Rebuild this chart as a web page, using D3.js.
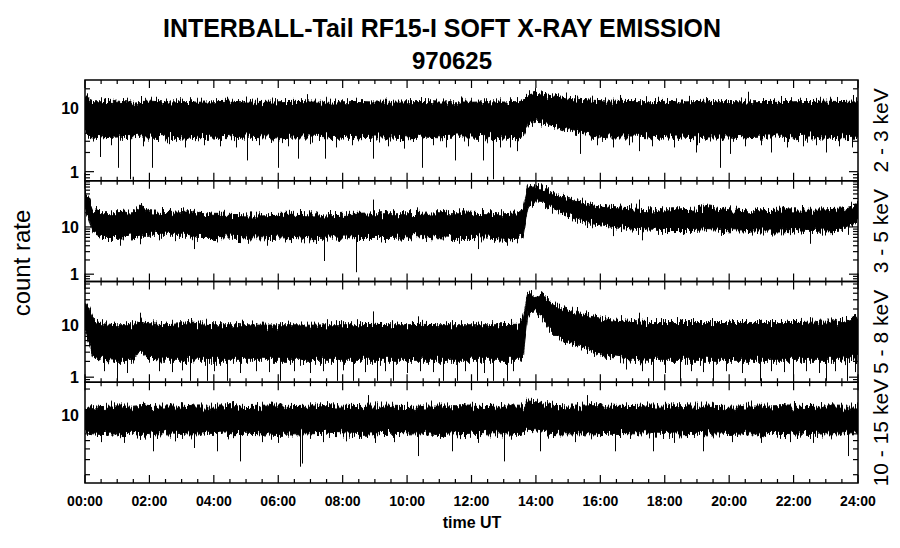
<!DOCTYPE html>
<html>
<head>
<meta charset="utf-8">
<script src="https://cdn.jsdelivr.net/npm/d3@7"></script>
<style>
  body { margin: 0; background: #fff; }
  svg { display: block; }
  text { font-family: "Liberation Sans", Arial, sans-serif; fill: #000; }
</style>
</head>
<body>
<svg width="900" height="548"></svg>
<script>
// sample times (hours UT) for the band envelopes
var hours = [0, 0.1, 0.25, 0.5, 1, 1.5, 1.7, 2, 2.5, 3,
             3.2, 3.5, 4, 4.5, 5, 5.5, 6, 6.5, 7, 7.5,
             8, 8.5, 9, 9.5, 10, 10.5, 11, 11.5, 12, 12.5,
             13, 13.5, 13.6, 13.75, 14, 14.2, 14.4, 14.7, 15, 15.4,
             15.8, 16.3, 17, 17.5, 18, 18.5, 19, 19.3, 19.6, 20,
             20.5, 21, 21.5, 22, 22.5, 23, 23.5, 24];

// 2 - 3 keV
var hi23 = [15, 13.5, 12.5, 12.5, 12.8, 12.3, 12.6, 12.8, 12.4, 12.5,
            12.6, 12.3, 12.5, 12.8, 12.4, 12.2, 12.5, 12.7, 12.4, 12.3,
            12.5, 12.6, 12.4, 12.3, 12.5, 12.6, 12.4, 12.5, 12.3, 12.5,
            12.4, 12.6, 13.2, 16, 17, 16.5, 15.8, 15, 14.2, 13.6,
            13.2, 12.8, 12.6, 12.5, 12.7, 12.4, 12.6, 12.8, 12.5, 12.6,
            12.4, 12.6, 12.7, 12.5, 12.6, 12.8, 12.6, 13];
var lo23 = [4, 3.6, 3.5, 3.4, 3.5, 3.4, 3.5, 3.5, 3.4, 3.5,
            3.5, 3.4, 3.5, 3.4, 3.5, 3.4, 3.4, 3.5, 3.5, 3.4,
            3.5, 3.4, 3.5, 3.5, 3.4, 3.5, 3.4, 3.5, 3.5, 3.4,
            3.5, 3.4, 3.6, 5.4, 6, 5.8, 5.5, 5, 4.4, 4,
            3.7, 3.5, 3.5, 3.4, 3.5, 3.5, 3.4, 3.5, 3.5, 3.5,
            3.4, 3.5, 3.5, 3.4, 3.5, 3.5, 3.4, 3.5];
var spikes23 = [[0.47,1.7],[1.01,1.15],[1.4,0.76],[2.08,1.15],[5.03,1.5],[6.0,1.15],[6.6,1.6],
  [7.45,1.6],[8.95,1.6],[10.47,1.15],[11.5,1.5],[12.36,1.5],[12.67,0.76],[13.4,2.1],[15.37,1.9],
  [17.2,2.1],[18.97,2.0],[19.72,1.15],[20.04,1.9],[21.3,2.0],[23.0,2.0],
  [0.8,2.6],[1.8,2.5],[2.6,2.7],[3.1,2.4],[3.7,2.6],[4.2,2.5],[4.7,2.4],[5.4,2.6],[6.3,2.5],
  [7.0,2.7],[7.8,2.4],[8.3,2.6],[9.4,2.5],[9.9,2.3],[10.8,2.6],[11.2,2.4],[11.9,2.5],[12.9,2.4],
  [13.2,2.4],[15.9,2.6],[16.4,2.4],[16.9,2.6],[17.6,2.5],[18.3,2.4],[19.0,2.6],[20.5,2.5],
  [21.0,2.6],[21.8,2.4],[22.3,2.5],[22.7,2.6],[23.4,2.5],[23.8,2.4],
  [0.05,17],[2.2,15],[4.4,15],[6.9,16.5],[13.8,19],[16.6,16],[17.8,15],[18.75,15.5],[20.6,18],
  [23.85,16],[0.6,14],[1.3,14.5],[3.0,14],[3.6,14.5],[5.2,14],[5.9,14.3],[7.6,14],[8.4,14.5],
  [9.3,14],[10.1,14.3],[10.9,14],[11.7,14.5],[12.4,14.2],[14.6,17],[15.2,16],[19.3,14.3],
  [21.4,14.2],[22.2,14.5],[22.9,14]];

// 3 - 5 keV
var hi35 = [57, 45, 24, 20, 20, 21, 25, 21, 20, 21,
            22, 19.5, 18.5, 18.5, 18, 18, 18.5, 18.5, 18, 18,
            18.5, 18.5, 19, 19, 19, 19.5, 20, 20, 19.5, 19,
            19, 20, 24, 66, 72, 70, 58, 45, 40, 34,
            29, 26, 24, 23, 23, 23, 24, 27, 25, 23,
            22, 22, 22.5, 23, 22.5, 23, 24, 30];
var lo35 = [24, 16, 7, 6, 6, 6.5, 7, 7, 7, 7,
            7, 6, 6, 5.8, 5.6, 5.6, 5.8, 6, 5.6, 5.8,
            5.8, 6, 6, 6, 6.2, 6.2, 6.2, 6, 6, 5.8,
            5.5, 5.8, 6, 26, 34, 33, 27, 22, 18, 13.5,
            11.5, 10.5, 9, 8.6, 8.4, 8.4, 8.5, 8.8, 8.6, 8.3,
            8.2, 8.2, 8.2, 8.4, 8, 8.2, 8.6, 13];
var spikes35 = [[1.1,4.0],[1.72,4.3],[3.38,3.4],[5.07,4.4],[5.65,4.0],[7.42,1.9],[8.42,1.1],
  [11.6,4.4],[12.2,3.4],[13.1,4.0],[16.4,6.4],[17.3,5.2],[22.5,4.4],
  [0.7,4.8],[2.3,5.2],[2.8,5.0],[4.1,4.7],[4.8,4.6],[6.2,4.7],[6.8,4.5],[7.9,4.8],[9.2,4.7],
  [9.8,4.9],[10.6,4.8],[12.7,4.6],[13.4,4.5],[15.6,9.5],[17.9,6.8],[18.6,7.0],[19.8,6.9],
  [20.7,6.7],[21.3,6.8],[22.0,6.9],[23.2,6.7],[23.7,6.8],
  [1.75,32],[3.05,26],[8.95,38],[10.3,26],[17.2,38],[19.3,31],[23.95,31],
  [0.8,22.5],[2.6,23],[4.3,21],[5.3,21],[6.4,21.5],[7.2,21],[8.1,21.5],[9.6,22],[11.2,23],
  [12.6,22.5],[13.3,22],[16.0,30],[18.2,26],[20.8,25.5],[21.7,26],[22.8,26],[23.5,27]];

// 5 - 8 keV
var hi58 = [28, 22, 13, 10.5, 10, 10, 12, 10.5, 10, 10.5,
            11, 10.5, 10, 10, 10, 9.8, 10, 10, 9.8, 10,
            10, 10, 10.2, 10, 10, 10.2, 10, 10, 10, 10,
            10, 10.3, 14, 42, 33, 40, 28, 22, 19, 16.5,
            14, 12.5, 11.5, 11, 11, 11, 11, 11, 11, 11,
            11, 11, 11, 11, 11.2, 11.2, 11.5, 13.5];
var lo58 = [8, 5, 2.4, 2.2, 2.1, 2.1, 3.2, 2.2, 2.1, 2.1,
            2.2, 2.1, 2.1, 2.1, 2.1, 2.1, 2.1, 2.1, 2.1, 2.1,
            2.1, 2.1, 2.1, 2.1, 2.1, 2.1, 2.1, 2.1, 2.1, 2.1,
            2.1, 2.1, 2.3, 16, 17, 14, 8.5, 5.5, 4.5, 3.8,
            3, 2.5, 2.2, 2.1, 2.1, 2.1, 2.1, 2.1, 2.1, 2.1,
            2.1, 2.1, 2.1, 2.1, 2.1, 2.1, 2.1, 2.4];
var spikes58 = [[0.98,0.85],[3.26,0.85],[3.78,0.85],[4.4,0.85],[6.06,0.85],[7.82,0.85],[8.33,0.85],
  [9.06,0.85],[9.57,0.85],[11.13,0.85],[11.54,0.85],[12.16,0.85],[12.67,0.85],[13.1,0.85],
  [17.65,0.85],[18.48,0.85],[19.5,0.85],[20.96,0.85],[21.99,0.85],[23.0,0.85],[23.66,0.85],
  [0.6,1.3],[1.3,1.2],[2.3,1.3],[2.7,1.25],[3.0,1.35],[4.0,1.3],[4.8,1.2],[5.3,1.3],[5.7,1.25],
  [6.5,1.3],[7.0,1.2],[7.4,1.3],[8.0,1.35],[8.7,1.25],[9.3,1.3],[10.0,1.2],[10.4,1.3],[10.8,1.25],
  [11.8,1.3],[12.4,1.2],[13.3,1.3],[16.8,1.4],[17.3,1.3],[18.0,1.2],[18.8,1.3],[19.2,1.25],
  [19.9,1.3],[20.4,1.2],[21.3,1.3],[21.7,1.25],[22.4,1.3],[22.8,1.2],[23.3,1.3],[23.9,1.25],
  [1.71,17],[4.87,12.5],[8.95,18],[10.35,14.5],[17.2,17],[20.0,12.5],[22.5,14],
  [0.9,11.5],[2.5,11.5],[3.5,12],[5.5,11.5],[6.3,12],[7.1,11.5],[7.9,11.8],[9.7,11.5],
  [11.4,12],[12.2,11.5],[13.0,11.8],[16.0,14],[18.5,12.5],[19.4,12.3],[21.0,12.5],[21.8,12.5],
  [23.3,13],[23.8,14]];

// 10 - 15 keV
var hi1015 = [13, 12.6, 12.8, 12.5, 12.7, 12.6, 12.8, 12.5, 12.7, 12.6,
              12.5, 12.7, 12.6, 12.8, 12.5, 12.6, 12.7, 12.5, 12.6, 12.8,
              12.6, 12.5, 12.7, 12.6, 12.5, 12.7, 12.6, 12.8, 12.6, 12.5,
              12.7, 12.6, 12.8, 14.5, 14.2, 13.5, 13, 12.8, 12.7, 12.6,
              12.8, 12.6, 12.5, 12.7, 12.6, 12.8, 12.6, 12.7, 12.5, 12.6,
              12.7, 12.6, 12.8, 12.6, 12.5, 12.7, 12.6, 12.7];
var lo1015 = [6, 6.1, 6, 5.9, 6, 6.1, 5.9, 6, 6, 5.9,
              6, 6, 5.9, 6, 6.1, 6, 5.9, 6, 6, 6.1,
              6, 5.9, 6, 6.1, 6, 6, 5.9, 6, 6.1, 6,
              6, 5.9, 6, 6.6, 6.5, 6.3, 6.1, 6, 6, 6,
              6, 6.1, 6, 6, 5.9, 6, 6.1, 6, 6, 5.9,
              6, 6, 6.1, 6, 5.9, 6, 6, 6];
var spikes1015 = [[2.1,3.75],[3.38,4.1],[4.1,3.75],[4.81,2.86],[6.68,2.48],[6.75,2.7],[10.35,3.3],
  [11.4,3.75],[13.0,2.86],[14.13,3.75],[16.45,3.75],[17.65,3.75],[19.2,3.75],[23.7,3.3],
  [0.5,4.8],[1.2,4.7],[2.8,4.9],[5.5,4.8],[6.0,4.7],[7.4,4.8],[8.1,4.9],[9.0,4.7],[9.6,4.8],
  [12.2,4.7],[15.2,4.8],[18.3,4.7],[20.1,4.8],[21.0,4.7],[21.9,4.8],[22.6,4.7],
  [4.6,14.5],[8.8,17],[13.75,15.5],[15.6,17],[22.0,14.5],
  [0.9,14],[1.8,14.2],[3.0,14],[5.8,14.2],[7.0,14],[10.0,14.2],[11.0,14],[12.0,14.2],
  [16.8,14],[18.0,14.2],[19.5,14],[20.6,14.2],[23.2,14]];

var bands = ["2 - 3 keV", "3 - 5 keV", "5 - 8 keV", "10 - 15 keV"];
var timeTicks = ["00:00", "02:00", "04:00", "06:00", "08:00", "10:00", "12:00",
                 "14:00", "16:00", "18:00", "20:00", "22:00", "24:00"];

var panels = [
  {label: bands[0], domain: [0.72, 27.5], hi: hi23, lo: lo23, spikes: spikes23},
  {label: bands[1], domain: [0.7, 95], hi: hi35, lo: lo35, spikes: spikes35},
  {label: bands[2], domain: [0.8, 67], hi: hi58, lo: lo58, spikes: spikes58},
  {label: bands[3], domain: [1.6, 24], hi: hi1015, lo: lo1015, spikes: spikes1015}
];

var svg = d3.select("svg");
var plotLeft = 85, plotRight = 858, plotTop = 80, panelH = 100.75;

var x = d3.scaleLinear().domain([0, 24]).range([plotLeft, plotRight]);

// rough the band edges so they read like the dense count-rate trace
var defs = svg.append("defs");
var rough = defs.append("filter")
    .attr("id", "rough")
    .attr("filterUnits", "userSpaceOnUse")
    .attr("x", 0).attr("y", 0).attr("width", 900).attr("height", 548)
    .attr("color-interpolation-filters", "sRGB");
rough.append("feTurbulence")
    .attr("type", "fractalNoise")
    .attr("baseFrequency", "0.8 0.04")
    .attr("numOctaves", 2)
    .attr("seed", 7)
    .attr("result", "noise");
rough.append("feColorMatrix")
    .attr("in", "noise")
    .attr("type", "matrix")
    .attr("values", "0 0 0 0 0.5  0 1 0 0 0  0 0 0 0 0  0 0 0 0 1")
    .attr("result", "shift");
rough.append("feDisplacementMap")
    .attr("in", "SourceGraphic")
    .attr("in2", "shift")
    .attr("scale", 17)
    .attr("xChannelSelector", "R")
    .attr("yChannelSelector", "G");

svg.append("text")
    .attr("x", 442).attr("y", 37)
    .attr("text-anchor", "middle")
    .attr("textLength", 558).attr("lengthAdjust", "spacingAndGlyphs")
    .style("font-size", "25px").style("font-weight", "bold")
    .text("INTERBALL-Tail RF15-I SOFT X-RAY EMISSION");

svg.append("text")
    .attr("x", 452).attr("y", 69)
    .attr("text-anchor", "middle")
    .style("font-size", "24px").style("font-weight", "bold")
    .text("970625");

svg.append("text")
    .attr("transform", "translate(30,263) rotate(-90)")
    .attr("text-anchor", "middle")
    .style("font-size", "24px")
    .text("count rate");

function interp(arr, h) {
  var i = d3.bisectRight(hours, h);
  if (i <= 0) return arr[0];
  if (i >= hours.length) return arr[hours.length - 1];
  var t = (h - hours[i - 1]) / (hours[i] - hours[i - 1]);
  return Math.exp(Math.log(arr[i - 1]) * (1 - t) + Math.log(arr[i]) * t);
}

var majorH = [], minorH = [];
for (var k = 0; k <= 48; k++) {
  if (k % 4 === 0) majorH.push(k / 2); else minorH.push(k / 2);
}

panels.forEach(function(p, i) {
  var y0 = plotTop + i * panelH, y1 = y0 + panelH;
  var y = d3.scaleLog().domain(p.domain).range([y1, y0]);
  var g = svg.append("g");

  defs.append("clipPath").attr("id", "clip" + i)
    .append("rect").attr("x", plotLeft).attr("y", y0)
    .attr("width", plotRight - plotLeft).attr("height", panelH);

  var plot = g.append("g").attr("clip-path", "url(#clip" + i + ")");

  var area = d3.area()
      .x(function(d, j) { return x(hours[j]); })
      .y0(function(d, j) { return y(p.lo[j]); })
      .y1(function(d, j) { return y(p.hi[j]); });

  plot.append("path")
      .datum(hours)
      .attr("d", area)
      .attr("fill", "#000")
      .attr("stroke", "#000")
      .attr("stroke-width", 1)
      .attr("filter", "url(#rough)");

  plot.selectAll("line.spike")
      .data(p.spikes)
      .enter().append("line")
      .attr("class", "spike")
      .attr("x1", function(d) { return Math.round(x(d[0])) + 0.5; })
      .attr("x2", function(d) { return Math.round(x(d[0])) + 0.5; })
      .attr("y1", function(d) { return y(Math.sqrt(interp(p.hi, d[0]) * interp(p.lo, d[0]))); })
      .attr("y2", function(d) { return y(d[1]); })
      .attr("stroke", "#000")
      .attr("stroke-width", 1);

  // frame
  g.append("rect")
      .attr("x", plotLeft).attr("y", y0)
      .attr("width", plotRight - plotLeft).attr("height", panelH)
      .attr("fill", "none").attr("stroke", "#000").attr("stroke-width", 1.5);

  // time ticks, inward on top and bottom
  var tk = g.append("g").attr("stroke", "#000").attr("stroke-width", 1.2);
  [[majorH, 8], [minorH, 4]].forEach(function(s) {
    s[0].forEach(function(h) {
      tk.append("line").attr("x1", x(h)).attr("x2", x(h)).attr("y1", y0).attr("y2", y0 + s[1]);
      tk.append("line").attr("x1", x(h)).attr("x2", x(h)).attr("y1", y1).attr("y2", y1 - s[1]);
    });
  });

  // log ticks, inward on left and right
  var lo10 = Math.floor(Math.log10(p.domain[0])), hi10 = Math.ceil(Math.log10(p.domain[1]));
  for (var e = lo10; e <= hi10; e++) {
    for (var m = 1; m <= 9; m++) {
      var v = m * Math.pow(10, e);
      if (v < p.domain[0] || v > p.domain[1]) continue;
      var len = m === 1 ? 9 : 5;
      tk.append("line").attr("x1", plotLeft).attr("x2", plotLeft + len).attr("y1", y(v)).attr("y2", y(v));
      tk.append("line").attr("x1", plotRight).attr("x2", plotRight - len).attr("y1", y(v)).attr("y2", y(v));
      if (m === 1) {
        g.append("text")
          .attr("x", plotLeft - 6).attr("y", y(v) + 6)
          .attr("text-anchor", "end")
          .style("font-size", "16px").style("font-weight", "bold")
          .text(String(v));
      }
    }
  }

  g.append("text")
      .attr("transform", "translate(888," + (y0 + panelH / 2) + ") rotate(-90)")
      .attr("text-anchor", "middle")
      .style("font-size", "21px")
      .text(p.label);
});

var plotBottom = plotTop + 4 * panelH;
svg.selectAll("text.tlab")
    .data(timeTicks)
    .enter().append("text")
    .attr("class", "tlab")
    .attr("x", function(d, j) { return x(majorH[j]); })
    .attr("y", plotBottom + 23)
    .attr("text-anchor", "middle")
    .style("font-size", "14px").style("font-weight", "bold")
    .text(function(d) { return d; });

svg.append("text")
    .attr("x", 472).attr("y", plotBottom + 45)
    .attr("text-anchor", "middle")
    .style("font-size", "16px").style("font-weight", "bold")
    .text("time UT");
</script>
</body>
</html>
